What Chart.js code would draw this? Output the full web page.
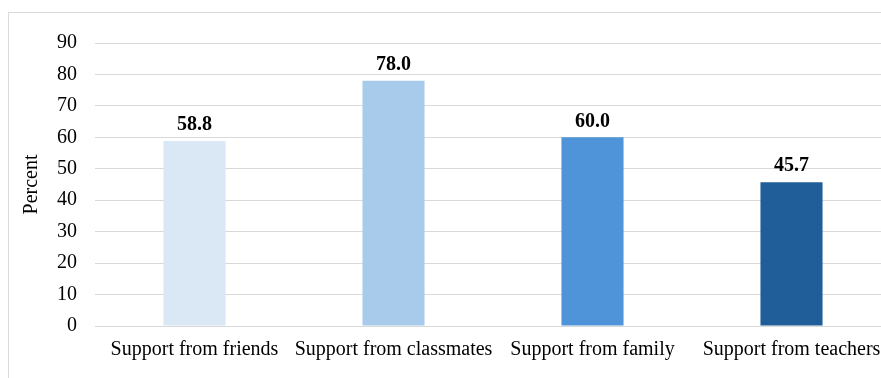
<!DOCTYPE html>
<html>
<head>
<meta charset="utf-8">
<script src="https://cdn.jsdelivr.net/npm/chart.js@4"></script>
<style>
    html, body { margin: 0; padding: 0; background: #fff; overflow: hidden; }
    #wrap { position: relative; width: 881px; height: 378px; overflow: hidden; }
    #frame {
        position: absolute; left: 8px; top: 12px; right: 0; bottom: 0;
        border-top: 1px solid #d9d9d9; border-left: 1px solid #d9d9d9;
        pointer-events: none;
    }
    canvas { position: absolute; left: 0; top: 0; }
</style>
</head>
<body>
<div id="wrap">
    <div id="frame"></div>
    <!-- canvas is a bit wider than the window: the original plot is cropped on the right -->
    <canvas id="supportChart" width="891" height="378"></canvas>
</div>
<script>
// Data
const categories = ['Support from friends', 'Support from classmates', 'Support from family', 'Support from teachers'];
const percents = [58.8, 78.0, 60.0, 45.7];
const barColors = ['#dae7f5', '#a9cbeb', '#4f94d8', '#1f5e99'];
const yTicks = [0, 10, 20, 30, 40, 50, 60, 70, 80, 90];

const fontFamily = '"Liberation Serif", "Times New Roman", serif';

// Draws the value above each bar
const valueLabels = {
    id: 'valueLabels',
    afterDatasetsDraw(chart) {
        const ctx = chart.ctx;
        const meta = chart.getDatasetMeta(0);
        ctx.save();
        ctx.font = 'bold 20px ' + fontFamily;
        ctx.fillStyle = '#000';
        ctx.textAlign = 'center';
        ctx.textBaseline = 'bottom';
        meta.data.forEach((bar, i) => {
            ctx.fillText(percents[i].toFixed(1), bar.x, bar.y - 6);
        });
        ctx.restore();
    }
};

const noPadding = () => ({ left: 0, top: 0, right: 0, bottom: 0 });

const ctx = document.getElementById('supportChart').getContext('2d');
const supportChart = new Chart(ctx, {
    type: 'bar',
    data: {
        labels: categories,
        datasets: [{
            data: percents,
            backgroundColor: barColors,
            borderWidth: 0,
            barPercentage: 0.312,
            categoryPercentage: 1
        }]
    },
    options: {
        responsive: false,
        animation: false,
        layout: { padding: { top: 43, right: 0, bottom: 0, left: 0 } },
        plugins: {
            legend: { display: false },
            tooltip: { enabled: false }
        },
        scales: {
            x: {
                grid: { display: false, drawTicks: false },
                border: { display: true, color: '#d9d9d9', width: 1 },
                ticks: {
                    color: '#000',
                    font: { family: fontFamily, size: 20 },
                    padding: 12,
                    maxRotation: 0,
                    autoSkip: false
                },
                afterFit(scale) {
                    scale.height = 52;
                    scale.getPadding = noPadding;
                }
            },
            y: {
                min: 0,
                max: 90,
                afterBuildTicks(scale) { scale.ticks = yTicks.map(v => ({ value: v })); },
                grid: { color: '#d9d9d9', drawTicks: false },
                border: { display: false },
                ticks: {
                    color: '#000',
                    font: { family: fontFamily, size: 20 },
                    padding: 18
                },
                title: {
                    display: true,
                    text: 'Percent',
                    color: '#000',
                    font: { family: fontFamily, size: 20 },
                    padding: { top: 20, bottom: 0 }
                },
                afterFit(scale) {
                    scale.width = 95;
                    scale.getPadding = noPadding;
                }
            }
        }
    },
    plugins: [valueLabels]
});
</script>
</body>
</html>
